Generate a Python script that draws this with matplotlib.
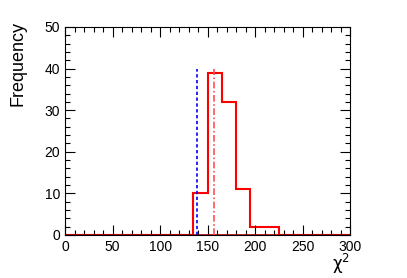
#import libraries
import matplotlib.pyplot as plt
import numpy as np
from matplotlib.ticker import MultipleLocator

plt.rcParams['font.family'] = ['Liberation Sans', 'DejaVu Sans']

#Data Definition
edges = np.arange(0, 301, 15)
counts = [0, 0, 0, 0, 0, 0, 0, 0, 0, 10, 39, 32, 11, 2, 2, 0, 0, 0, 0, 0]
blue_line = 139
red_line = 157
line_top = 40

#Create Figure
fig = plt.figure(figsize=(4.07, 2.78), dpi=100)
ax = fig.add_axes([0.16, 0.155, 0.70, 0.748])

#Create Plot
ax.stairs(counts, edges, color='red', linewidth=1.5, baseline=None)
ax.plot([edges[0], edges[-1]], [0, 0], color='#b00000', linewidth=1.2)
ax.vlines(blue_line, 0, line_top, colors='blue', linestyles=(0, (2, 1.5)), linewidth=1.2)
ax.vlines(red_line, 0, line_top, colors='#ff5050', linestyles=(0, (4, 1.5, 1, 1.5)), linewidth=1.2)

#Modify figure's appearance
ax.set_xlim(0, 300)
ax.set_ylim(0, 50)
ax.xaxis.set_major_locator(MultipleLocator(50))
ax.xaxis.set_minor_locator(MultipleLocator(10))
ax.yaxis.set_major_locator(MultipleLocator(10))
ax.yaxis.set_minor_locator(MultipleLocator(2))
ax.tick_params(which='both', direction='in', top=True, right=True, labelsize=10, width=0.8, colors='black')
ax.tick_params(which='major', length=7)
ax.tick_params(which='minor', length=3.5)
for s in ax.spines.values():
    s.set_linewidth(0.8)
ax.set_xlabel('χ$^{2}$', fontsize=12, ha='right', family=['DejaVu Sans'])
ax.xaxis.set_label_coords(1.0, -0.08)
ax.set_ylabel('Frequency', fontsize=13, ha='right', labelpad=14)
ax.yaxis.set_label_coords(-0.135, 1.03)

#Show/Save Plot
plt.savefig('out.png', dpi=100)
